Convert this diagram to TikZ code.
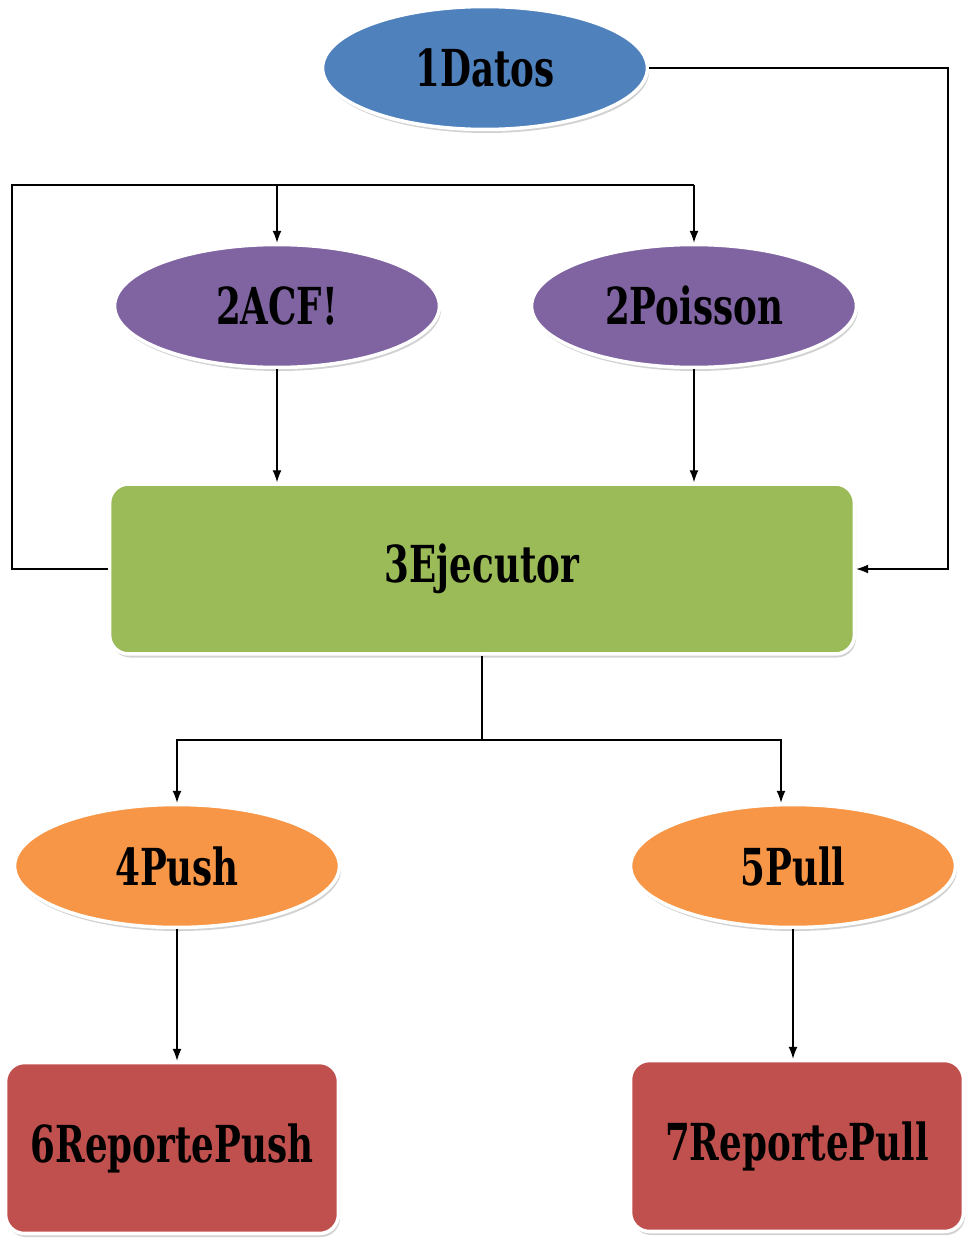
\documentclass[tikz,border=0pt]{standalone}
\usepackage{fontspec}
\newfontfamily\boxfont[FakeStretch=0.7]{DejaVu Serif}
\usetikzlibrary{shapes.geometric,shadows,arrows.meta}

\definecolor{datosblue}{HTML}{4F81BD}
\definecolor{modpurple}{HTML}{8064A2}
\definecolor{ejecgreen}{HTML}{9BBB59}
\definecolor{modorange}{HTML}{F79646}
\definecolor{reportred}{HTML}{C0504D}

\tikzset{
  base/.style={draw=white, line width=2pt, inner sep=0pt,
    drop shadow={shadow xshift=0.9pt, shadow yshift=-2pt, fill=black!35},
    font=\boxfont\bfseries\fontsize{29}{30}\selectfont},
  oval/.style={base, ellipse, minimum width=6.5cm, minimum height=2.46cm},
  block/.style={base, rectangle, rounded corners=0.38cm},
  arr/.style={-{Latex[length=2.4mm,width=1.8mm]}, line width=0.7pt},
  line/.style={line width=0.7pt},
}

\begin{document}
\begin{tikzpicture}[x=0.02cm, y=-0.02cm]
\useasboundingbox (0,0) rectangle (972,1247);

% nodos
\node[oval, fill=datosblue] (datos) at (485,68) {1Datos};
\node[oval, fill=modpurple] (acf) at (277,306) {2ACF!};
\node[oval, fill=modpurple] (poisson) at (694,306) {2Poisson};
\node[block, fill=ejecgreen, minimum width=14.9cm, minimum height=3.4cm] (ejec) at (482,569) {3Ejecutor};
\node[oval, fill=modorange] (push) at (177,866) {4Push};
\node[oval, fill=modorange] (pull) at (793,866) {5Pull};
\node[block, fill=reportred, minimum width=6.66cm, minimum height=3.42cm] (rpush) at (172,1148) {6ReportePush};
\node[block, fill=reportred, minimum width=6.66cm, minimum height=3.42cm] (rpull) at (797,1146) {7ReportePull};

% conexiones
\coordinate (rgt) at (948,68);
\coordinate (lft) at (12,185);
\coordinate (split) at (482,740);

\draw[arr] (datos.east) -- (rgt) |- (ejec.east);
\draw[line] (ejec.west) -| (lft) -- (poisson.north |- lft);
\draw[arr] (acf.north |- lft) -- (acf.north);
\draw[arr] (poisson.north |- lft) -- (poisson.north);
\draw[arr] (acf.south) -- (acf.south |- ejec.north);
\draw[arr] (poisson.south) -- (poisson.south |- ejec.north);
\draw[line] (ejec.south) -- (split);
\draw[arr] (split) -| (push.north);
\draw[arr] (split) -| ([xshift=-0.24cm]pull.north);
\draw[arr] (push.south) -- (push.south |- rpush.north);
\draw[arr] (pull.south) -- (pull.south |- rpull.north);
\end{tikzpicture}
\end{document}
